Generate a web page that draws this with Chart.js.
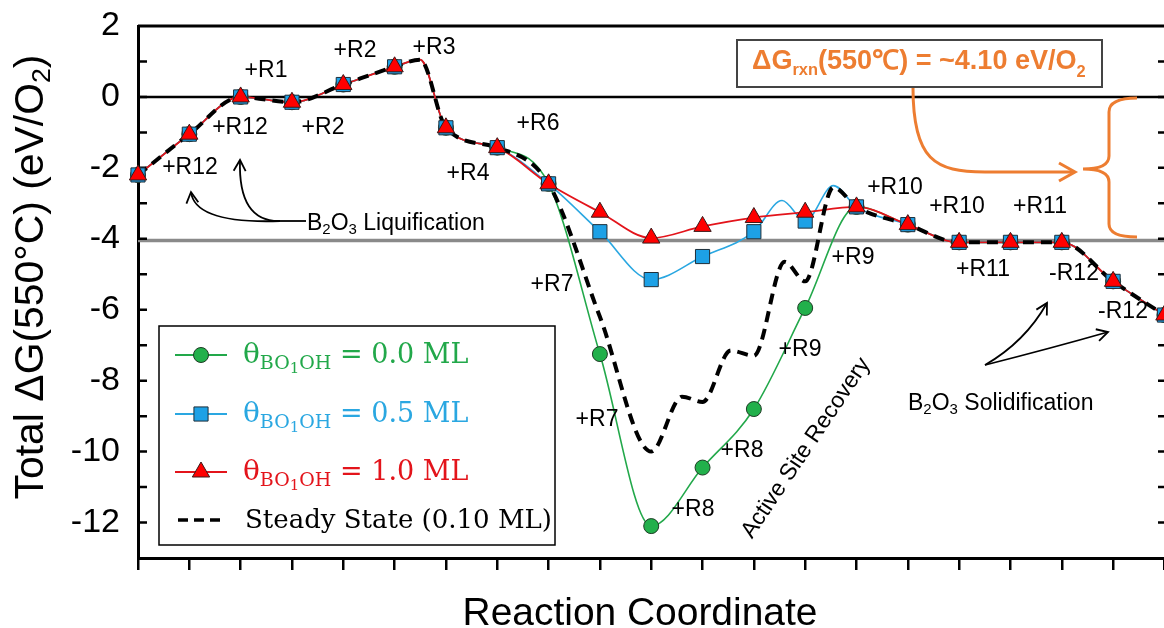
<!DOCTYPE html>
<html>
<head>
<meta charset="utf-8">
<script src="https://cdn.jsdelivr.net/npm/chart.js@4.4.1/dist/chart.umd.min.js"></script>
<style>
html, body { margin: 0; padding: 0; background: #fff; overflow: hidden; }
canvas { display: block; }
</style>
</head>
<body>
<canvas id="energy-chart" width="1180" height="628"></canvas>
<script>
// reaction coordinate steps
var steps = [0, 1, 2, 3, 4, 5, 6, 7, 8, 9, 10, 11, 12, 13, 14, 15, 16, 17, 18, 19, 20];

// total dG (eV/O2) at each step, one array per BO1OH coverage
var theta00 = [-2.2, -1.05, 0.0, -0.15, 0.35, 0.85, -0.87, -1.43, -2.45, -7.25, -12.1, -10.45, -8.8, -5.95, -3.1, -3.6, -4.1, -4.1, -4.1, -5.2, -6.15];
var theta05 = [-2.2, -1.05, 0.0, -0.15, 0.35, 0.85, -0.87, -1.43, -2.45, -3.8, -5.15, -4.5, -3.8, -3.5, -3.1, -3.6, -4.1, -4.1, -4.1, -5.2, -6.15];
var theta10 = [-2.2, -1.05, 0.0, -0.15, 0.35, 0.85, -0.87, -1.43, -2.45, -3.25, -3.98, -3.65, -3.4, -3.25, -3.1, -3.6, -4.1, -4.1, -4.1, -5.2, -6.15];
var steadyState = [-2.2, -1.05, 0.0, -0.15, 0.35, 0.85, -0.87, -1.43, -2.45, -6.2, -10.0, -8.6, -7.3, -5.2, -3.1, -3.6, -4.1, -4.1, -4.1, -5.2, -6.15];

// humps between steps
var humpsShared = [[5.5, 1.05]];
var humps05 = [[12.55, -2.92], [13.55, -2.5]];
var humpsSteady = [[10.6, -8.45], [11.55, -7.15], [12.6, -4.65], [13.55, -2.55]];

var yLabelled = [2, 0, -2, -4, -6, -8, -10, -12];
var overallLevel = -4.05;

var green = '#22A84A', blue = '#2AA7E1', red = '#E3141B', orange = '#ED7D31';

function curve(values, extras) {
    var pts = steps.map(function(s, i) { return { x: s, y: values[i] }; });
    extras.forEach(function(e) { pts.push({ x: e[0], y: e[1] }); });
    return pts.sort(function(a, b) { return a.x - b.x; });
}

function markers(values) {
    return steps.map(function(s, i) { return { x: s, y: values[i] }; });
}

function richText(ctx, parts, x, y, align) {
    var w = 0;
    parts.forEach(function(p) {
        ctx.font = (p.weight || 'normal') + ' ' + p.size + 'px ' + (p.family || "'Liberation Sans', Arial, sans-serif");
        w += ctx.measureText(p.t).width;
    });
    var cx = align === 'center' ? x - w / 2 : x;
    parts.forEach(function(p) {
        ctx.font = (p.weight || 'normal') + ' ' + p.size + 'px ' + (p.family || "'Liberation Sans', Arial, sans-serif");
        ctx.fillText(p.t, cx, y + (p.dy || 0));
        cx += ctx.measureText(p.t).width;
    });
    return w;
}

function fitParts(ctx, parts, target) {
    ctx.save();
    var w = 0;
    parts.forEach(function(p) {
        ctx.font = (p.weight || 'normal') + ' ' + p.size + 'px ' + (p.family || "'Liberation Sans', Arial, sans-serif");
        w += ctx.measureText(p.t).width;
    });
    ctx.restore();
    var k = target / w;
    return parts.map(function(p) {
        return { t: p.t, size: p.size * k, dy: (p.dy || 0) * k, weight: p.weight, family: p.family };
    });
}

function vHead(ctx, tipX, tipY, fromX, fromY, len, half) {
    var a = Math.atan2(tipY - fromY, tipX - fromX);
    var c = Math.cos(a), s = Math.sin(a);
    ctx.beginPath();
    ctx.moveTo(tipX - len * c + half * s, tipY - len * s - half * c);
    ctx.lineTo(tipX, tipY);
    ctx.lineTo(tipX - len * c - half * s, tipY - len * s + half * c);
    ctx.stroke();
}

function curvedArrow(ctx, x0, y0, cx, cy, x1, y1) {
    ctx.beginPath();
    ctx.moveTo(x0, y0);
    ctx.quadraticCurveTo(cx, cy, x1, y1);
    ctx.stroke();
    vHead(ctx, x1, y1, cx, cy, 11, 6);
}

var framePlugin = {
    id: 'frame',
    beforeDatasetsDraw: function(chart) {
        var ctx = chart.ctx, a = chart.chartArea, y = chart.scales.y;
        ctx.save();
        ctx.strokeStyle = '#8a8a8a';
        ctx.lineWidth = 3.5;
        var gy = y.getPixelForValue(overallLevel);
        ctx.beginPath(); ctx.moveTo(a.left, gy); ctx.lineTo(a.right, gy); ctx.stroke();
        ctx.strokeStyle = '#000';
        ctx.lineWidth = 2.5;
        var zy = y.getPixelForValue(0);
        ctx.beginPath(); ctx.moveTo(a.left, zy); ctx.lineTo(a.right, zy); ctx.stroke();
        ctx.lineWidth = 3;
        ctx.beginPath();
        ctx.moveTo(a.left, a.top); ctx.lineTo(a.right, a.top); ctx.lineTo(a.right, a.bottom);
        ctx.stroke();
        ctx.lineWidth = 2.5;
        for (var v = -12; v <= 1; v++) {
            var ty = y.getPixelForValue(v);
            ctx.beginPath();
            ctx.moveTo(a.left, ty); ctx.lineTo(a.left + 9, ty);
            ctx.moveTo(a.right, ty); ctx.lineTo(a.right - 9, ty);
            ctx.stroke();
        }
        ctx.restore();
    }
};

var stepLabels = [
    ['+R12', 190, 168], ['+R12', 240, 128], ['+R1', 266, 71], ['+R2', 323, 128], ['+R2', 355, 51],
    ['+R3', 434, 48], ['+R4', 468, 174], ['+R6', 538, 124], ['+R7', 552, 285], ['+R7', 597, 420],
    ['+R8', 693, 510], ['+R8', 742, 451], ['+R9', 800, 350], ['+R9', 853, 258], ['+R10', 895, 188],
    ['+R10', 957, 207], ['+R11', 1040, 207], ['+R11', 983, 270], ['-R12', 1074, 274], ['-R12', 1123, 312]
];

var annotationPlugin = {
    id: 'annotations',
    afterDraw: function(chart) {
        var ctx = chart.ctx;
        ctx.save();
        ctx.fillStyle = '#000';

        // axis titles
        ctx.textBaseline = 'alphabetic';
        var xt = fitParts(ctx, [{ t: 'Reaction Coordinate', size: 38 }], 355);
        richText(ctx, xt, 640, 625, 'center');
        ctx.save();
        ctx.translate(43, 277);
        ctx.rotate(-Math.PI / 2);
        var yt = fitParts(ctx, [{ t: 'Total \u0394G(550\u00B0C) (eV/O', size: 40 }, { t: '2', size: 26, dy: 7 }, { t: ')', size: 40 }], 445);
        richText(ctx, yt, 0, 0, 'center');
        ctx.restore();

        // reaction step labels
        ctx.textAlign = 'center';
        ctx.textBaseline = 'middle';
        ctx.font = "23px 'Liberation Sans', Arial, sans-serif";
        stepLabels.forEach(function(l) { ctx.fillText(l[0], l[1], l[2]); });
        ctx.textAlign = 'left';
        ctx.textBaseline = 'alphabetic';

        richText(ctx, [{ t: 'B', size: 23 }, { t: '2', size: 15, dy: 4 }, { t: 'O', size: 23 }, { t: '3', size: 15, dy: 4 }, { t: ' Liquification', size: 23 }], 307, 230);
        richText(ctx, [{ t: 'B', size: 23 }, { t: '2', size: 15, dy: 4 }, { t: 'O', size: 23 }, { t: '3', size: 15, dy: 4 }, { t: ' Solidification', size: 23 }], 908, 410);

        ctx.save();
        ctx.translate(806, 448);
        ctx.rotate(-56 * Math.PI / 180);
        ctx.textAlign = 'center';
        ctx.textBaseline = 'middle';
        ctx.font = "23px 'Liberation Sans', Arial, sans-serif";
        ctx.fillText('Active Site Recovery', 0, 0);
        ctx.restore();

        // black arrows
        ctx.strokeStyle = '#000';
        ctx.lineWidth = 1.8;
        ctx.beginPath(); ctx.moveTo(278, 221); ctx.lineTo(306, 221); ctx.stroke();
        curvedArrow(ctx, 280, 221, 195, 224, 191, 192);
        curvedArrow(ctx, 280, 221, 238, 222, 240, 160);
        curvedArrow(ctx, 985, 365, 1025, 342, 1047, 303);
        curvedArrow(ctx, 985, 365, 1052, 348, 1108, 332);

        // orange reaction energy box, arrow and brace
        ctx.fillStyle = '#fff';
        ctx.fillRect(737, 40, 365, 47);
        ctx.strokeStyle = '#444';
        ctx.lineWidth = 2;
        ctx.strokeRect(737, 40, 365, 47);
        ctx.fillStyle = orange;
        var ot = fitParts(ctx, [
            { t: '\u0394G', size: 28, weight: 'bold' },
            { t: 'rxn', size: 17, dy: 6, weight: 'bold' },
            { t: '(550\u2103) = ~4.10 eV/O', size: 28, weight: 'bold' },
            { t: '2', size: 17, dy: 8, weight: 'bold' }
        ], 334);
        richText(ctx, ot, 752, 69);

        ctx.strokeStyle = orange;
        ctx.lineWidth = 3;
        ctx.beginPath();
        ctx.moveTo(913, 88);
        ctx.bezierCurveTo(913, 160, 935, 172, 985, 172);
        ctx.lineTo(1073, 172);
        ctx.stroke();
        vHead(ctx, 1075, 172, 1060, 172, 16, 9);

        ctx.beginPath();
        ctx.moveTo(1137, 98);
        ctx.quadraticCurveTo(1109, 98, 1109, 112);
        ctx.lineTo(1109, 156);
        ctx.quadraticCurveTo(1109, 169, 1083, 169);
        ctx.quadraticCurveTo(1109, 169, 1109, 182);
        ctx.lineTo(1109, 224);
        ctx.quadraticCurveTo(1109, 237, 1137, 237);
        ctx.stroke();

        // legend
        ctx.fillStyle = '#fff';
        ctx.fillRect(159, 326, 396, 219);
        ctx.strokeStyle = '#000';
        ctx.lineWidth = 1.5;
        ctx.strokeRect(159, 326, 396, 219);
        var ds = chart.data.datasets;
        var rows = [[ds[4], 355, '0.0 ML'], [ds[5], 414, '0.5 ML'], [ds[6], 472, '1.0 ML']];
        var serif = "'DejaVu Serif', serif";
        rows.forEach(function(r) {
            var d = r[0], ry = r[1];
            ctx.strokeStyle = d.textColor;
            ctx.lineWidth = 2;
            ctx.beginPath(); ctx.moveTo(175, ry); ctx.lineTo(227, ry); ctx.stroke();
            ctx.fillStyle = d.pointBackgroundColor;
            ctx.strokeStyle = d.pointBorderColor;
            ctx.lineWidth = d.pointBorderWidth;
            Chart.helpers.drawPoint(ctx, { pointStyle: d.pointStyle, radius: d.pointRadius, borderWidth: d.pointBorderWidth, rotation: 0 }, 201, ry);
            ctx.fillStyle = d.textColor;
            richText(ctx, [
                { t: '\u03B8', size: 28, family: serif },
                { t: 'BO', size: 19, dy: 6, family: serif },
                { t: '1', size: 15, dy: 10, family: serif },
                { t: 'OH', size: 19, dy: 6, family: serif },
                { t: ' = ' + r[2], size: 27, family: serif }
            ], 243, ry + 8);
        });
        ctx.strokeStyle = '#000';
        ctx.lineWidth = 3.5;
        ctx.setLineDash([10, 6]);
        ctx.beginPath(); ctx.moveTo(178, 520); ctx.lineTo(220, 520); ctx.stroke();
        ctx.setLineDash([]);
        ctx.fillStyle = '#000';
        richText(ctx, [{ t: 'Steady State (0.10 ML)', size: 26, family: serif }], 245, 528);

        ctx.restore();
    }
};

Chart.defaults.font.family = "'Liberation Sans', Arial, sans-serif";
Chart.defaults.color = '#000';

var lineBase = { pointRadius: 0, fill: false, cubicInterpolationMode: 'monotone' };

var energyChart = new Chart(document.getElementById('energy-chart'), {
    type: 'line',
    data: {
        datasets: [
            Object.assign({ data: curve(theta00, humpsShared), borderColor: green, borderWidth: 1.6, order: 6 }, lineBase),
            Object.assign({ data: curve(theta05, humpsShared.concat(humps05)), borderColor: blue, borderWidth: 1.6, order: 5 }, lineBase),
            Object.assign({ data: curve(theta10, humpsShared), borderColor: red, borderWidth: 1.8, order: 4 }, lineBase),
            Object.assign({ data: curve(steadyState, humpsShared.concat(humpsSteady)), borderColor: '#000', borderWidth: 4, borderDash: [11, 7], order: 3 }, lineBase),
            { data: markers(theta00), showLine: false, pointStyle: 'circle', pointRadius: 7.5, pointBackgroundColor: '#22B04B', pointBorderColor: '#1d3b24', pointBorderWidth: 1, textColor: green, order: 2, clip: false },
            { data: markers(theta05), showLine: false, pointStyle: 'rect', pointRadius: 10, pointBackgroundColor: '#1DA1E6', pointBorderColor: '#1f2f3a', pointBorderWidth: 1, textColor: blue, order: 1, clip: false },
            { data: markers(theta10), showLine: false, pointStyle: 'triangle', pointRadius: 10, pointBackgroundColor: '#FF0000', pointBorderColor: '#3a1a1a', pointBorderWidth: 1, textColor: red, order: 0, clip: false }
        ]
    },
    options: {
        responsive: false,
        animation: false,
        devicePixelRatio: 1,
        layout: { padding: { top: 26, right: 13, left: 0, bottom: 0 } },
        plugins: { legend: { display: false }, tooltip: { enabled: false } },
        scales: {
            x: {
                type: 'linear',
                min: 0,
                max: 20.05,
                afterFit: function(s) { s.height = 70; s.paddingLeft = 0; s.paddingRight = 0; },
                ticks: { stepSize: 1, includeBounds: false, autoSkip: false, callback: function() { return ''; } },
                grid: { drawOnChartArea: false, drawTicks: true, tickLength: 12, lineWidth: 2.5, color: '#000' },
                border: { color: '#000', width: 3 }
            },
            y: {
                min: -13,
                max: 2,
                afterFit: function(s) { s.width = 138; s.paddingTop = 0; s.paddingBottom = 0; },
                ticks: {
                    stepSize: 1,
                    includeBounds: false,
                    autoSkip: false,
                    padding: 18,
                    color: '#000',
                    font: { size: 34 },
                    callback: function(v) { return yLabelled.indexOf(v) >= 0 ? String(v) : ''; }
                },
                grid: { drawOnChartArea: false, drawTicks: false, color: '#000' },
                border: { color: '#000', width: 3 }
            }
        }
    },
    plugins: [framePlugin, annotationPlugin]
});
</script>
</body>
</html>
